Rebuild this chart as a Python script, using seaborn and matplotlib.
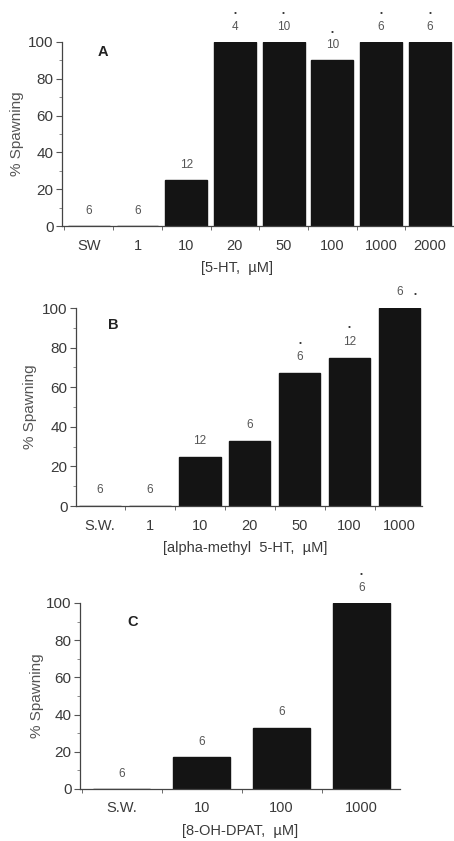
import matplotlib
matplotlib.use("Agg")
import matplotlib.pyplot as plt
import seaborn as sns
import pandas as pd
from matplotlib.ticker import MultipleLocator, FixedLocator

# panneau A : 5-HT
doses_a = ["SW", "1", "10", "20", "50", "100", "1000", "2000"]
spawn_a = [0, 0, 25, 100, 100, 90, 100, 100]
n_a = [6, 6, 12, 4, 10, 10, 6, 6]
star_a = [False, False, False, True, True, True, True, True]

# panneau B : alpha-methyl 5-HT
doses_b = ["S.W.", "1", "10", "20", "50", "100", "1000"]
spawn_b = [0, 0, 25, 33, 67, 75, 100]
n_b = [6, 6, 12, 6, 6, 12, 6]
star_b = [False, False, False, False, True, True, True]

# panneau C : 8-OH-DPAT
doses_c = ["S.W.", "10", "100", "1000"]
spawn_c = [0, 17, 33, 100]
n_c = [6, 6, 6, 6]
star_c = [False, False, False, True]

sns.set_style("ticks")
plt.rcParams["font.family"] = ["Liberation Sans", "DejaVu Sans"]

BAR = "#141414"
TXT = "#3a3a3a"

fig = plt.figure(figsize=(4.54, 8.41), dpi=100)


def panneau(rect, doses, spawn, n, star, width, lettre, lettre_pos, xlabel,
            xlab_pos, ylab_x, xlim, star_right=False):
    ax = fig.add_axes(rect)
    df = pd.DataFrame({"dose": doses, "spawn": spawn})
    sns.barplot(data=df, x="dose", y="spawn", order=doses, color=BAR,
                width=width, saturation=1, ax=ax, edgecolor=BAR)
    ax.set_ylim(0, 100)
    ax.set_xlim(*xlim)
    ax.yaxis.set_major_locator(MultipleLocator(20))
    ax.yaxis.set_minor_locator(MultipleLocator(10))
    # petits traits entre les catégories, comme sur la figure d'origine
    ax.xaxis.set_minor_locator(FixedLocator([i + 0.5 for i in range(-1, len(doses))]))
    ax.tick_params(axis="x", which="major", length=0, pad=9, labelsize=10.5,
                   labelcolor=TXT)
    ax.tick_params(axis="x", which="minor", length=3, color="#555")
    ax.tick_params(axis="y", which="major", length=4, pad=2, labelsize=11,
                   labelcolor=TXT, color="#555")
    ax.tick_params(axis="y", which="minor", length=2, color="#777")
    sns.despine(ax=ax)
    for s in ["left", "bottom"]:
        ax.spines[s].set_color("#444")
        ax.spines[s].set_linewidth(0.9)

    # effectifs et astérisques au-dessus des barres
    for i, (v, k, s) in enumerate(zip(spawn, n, star)):
        ax.text(i, v + 5, str(k), ha="center", va="bottom", fontsize=8.5,
                color="#555", clip_on=False)
        if s:
            if star_right and v >= 100:
                ax.text(i + 0.32, v + 5, "\u2022", ha="center", va="bottom",
                        fontsize=6, color="#333", clip_on=False)
            else:
                ax.text(i, v + 13.5, "\u2022", ha="center", va="bottom",
                        fontsize=6, color="#333", clip_on=False)

    ax.text(lettre_pos[0], lettre_pos[1], lettre, transform=ax.transAxes,
            ha="center", va="center", fontsize=10.5, fontweight="bold",
            color="#222")
    ax.set_xlabel(xlabel, fontsize=10.5, color=TXT)
    ax.xaxis.set_label_coords(*xlab_pos)
    ax.set_ylabel("% Spawning", fontsize=11, color="#555")
    ax.yaxis.set_label_coords(ylab_x, 0.5)
    return ax


panneau([62 / 454, 1 - 226 / 841, 392 / 454, 184 / 841],
        doses_a, spawn_a, n_a, star_a, 0.86, "A", (0.105, 0.946),
        "[5-HT,  \u00b5M]", (0.446, -0.19), -0.097, (-0.55, 7.5))

panneau([76 / 454, 1 - 506 / 841, 346 / 454, 198 / 841],
        doses_b, spawn_b, n_b, star_b, 0.83, "B", (0.107, 0.914),
        "[alpha-methyl  5-HT,  \u00b5M]", (0.488, -0.175), -0.113, (-0.48, 6.45),
        star_right=True)

panneau([80 / 454, 1 - 789 / 841, 320 / 454, 186 / 841],
        doses_c, spawn_c, n_c, star_c, 0.71, "C", (0.166, 0.898),
        "[8-OH-DPAT,  \u00b5M]", (0.5, -0.19), -0.1125, (-0.52, 3.48))

fig.savefig("out.png", dpi=100)
